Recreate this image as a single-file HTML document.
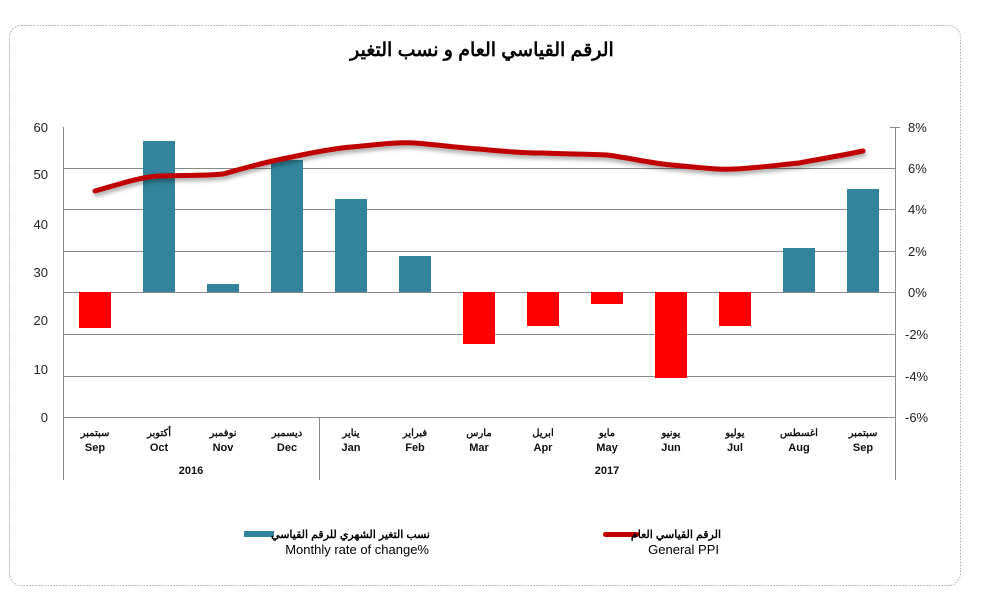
<!DOCTYPE html>
<html><head><meta charset="utf-8"><style>
body{margin:0;background:#fff;width:992px;height:598px;overflow:hidden}
svg text{font-family:"Liberation Sans","Noto Sans CJK SC",sans-serif}
</style></head><body>
<svg width="992" height="598" xmlns="http://www.w3.org/2000/svg">
<defs><filter id="sh" x="-5%" y="-50%" width="110%" height="200%"><feDropShadow dx="1" dy="3" stdDeviation="2" flood-color="#000" flood-opacity="0.35"/></filter></defs>
<rect x="9.5" y="25.5" width="951" height="560" rx="12" fill="#fff" stroke="#aaa" stroke-dasharray="1.5,1.5"/>
<text x="482" y="56" text-anchor="middle" font-size="19" font-weight="bold">الرقم القياسي العام و نسب التغير</text>
<g stroke="#888" stroke-width="1">
<line x1="63" y1="168.5" x2="895" y2="168.5"/>
<line x1="63" y1="209.5" x2="895" y2="209.5"/>
<line x1="63" y1="251.5" x2="895" y2="251.5"/>
<line x1="63" y1="292.5" x2="895" y2="292.5"/>
<line x1="63" y1="334.5" x2="895" y2="334.5"/>
<line x1="63" y1="376.5" x2="895" y2="376.5"/>
<line x1="63" y1="417.5" x2="895" y2="417.5"/>
<line x1="63.5" y1="127" x2="63.5" y2="480"/>
<line x1="895.5" y1="127" x2="895.5" y2="480"/>
<line x1="319.5" y1="417" x2="319.5" y2="480"/>
<line x1="890" y1="127.5" x2="900" y2="127.5"/>
</g>
<g font-size="13" fill="#222" text-anchor="end">
<text x="48" y="132">60</text><text x="48" y="179">50</text><text x="48" y="229">40</text><text x="48" y="277">30</text><text x="48" y="325">20</text><text x="48" y="374">10</text><text x="48" y="422">0</text>
</g>
<g font-size="13" fill="#222">
<text x="908" y="132">8%</text><text x="908" y="173">6%</text><text x="908" y="214">4%</text><text x="908" y="256">2%</text><text x="908" y="297">0%</text><text x="905" y="339">-2%</text><text x="905" y="381">-4%</text><text x="905" y="422">-6%</text>
</g>
<g fill="#31849b">
<rect x="143" y="141" width="32" height="151"/>
<rect x="207" y="284" width="32" height="8"/>
<rect x="271" y="160" width="32" height="132"/>
<rect x="335" y="199" width="32" height="93"/>
<rect x="399" y="256" width="32" height="36"/>
<rect x="783" y="248" width="32" height="44"/>
<rect x="847" y="189" width="32" height="103"/>
</g>
<g fill="#ff0000">
<rect x="79" y="292" width="32" height="36"/>
<rect x="463" y="292" width="32" height="52"/>
<rect x="527" y="292" width="32" height="34"/>
<rect x="591" y="292" width="32" height="12"/>
<rect x="655" y="292" width="32" height="86"/>
<rect x="719" y="292" width="32" height="34"/>
</g>
<path filter="url(#sh)" d="M95,191 C120,184 140,177 159,176 C180,175 205,176 223,174 C245,168 265,162 287,158 C310,153 330,149 351,147 C375,145 395,142 415,143 C440,145 460,148 479,149 C500,151 520,153 543,153 C565,154 585,154 607,155 C630,158 650,163 671,165 C695,167 715,170 735,169 C755,168 770,166 799,163 C820,159 845,155 863,151" fill="none" stroke="#c00000" stroke-width="5" stroke-linecap="round"/>
<g font-size="10" font-weight="bold" text-anchor="middle" fill="#111">
<text x="95" y="436">سبتمبر</text><text x="159" y="436">أكتوبر</text><text x="223" y="436">نوفمبر</text><text x="287" y="436">ديسمبر</text><text x="351" y="436">يناير</text><text x="415" y="436">فبراير</text><text x="479" y="436">مارس</text><text x="543" y="436">ابريل</text><text x="607" y="436">مايو</text><text x="671" y="436">يونيو</text><text x="735" y="436">يوليو</text><text x="799" y="436">اغسطس</text><text x="863" y="436">سبتمبر</text>
</g>
<g font-size="11" font-weight="bold" text-anchor="middle" fill="#111">
<text x="95" y="451">Sep</text><text x="159" y="451">Oct</text><text x="223" y="451">Nov</text><text x="287" y="451">Dec</text><text x="351" y="451">Jan</text><text x="415" y="451">Feb</text><text x="479" y="451">Mar</text><text x="543" y="451">Apr</text><text x="607" y="451">May</text><text x="671" y="451">Jun</text><text x="735" y="451">Jul</text><text x="799" y="451">Aug</text><text x="863" y="451">Sep</text>
<text x="191" y="474">2016</text><text x="607" y="474">2017</text>
</g>
<rect x="244" y="531" width="30" height="6" fill="#31849b"/>
<text x="430" y="538" font-size="11" font-weight="bold" text-anchor="end">نسب التغير الشهري للرقم القياسي</text>
<text x="429" y="554" font-size="13" text-anchor="end" fill="#000">Monthly rate of change%</text>
<rect x="603" y="532" width="36" height="5" rx="2.5" fill="#c00000"/>
<text x="721" y="538" font-size="11" font-weight="bold" text-anchor="end">الرقم القياسي العام</text>
<text x="719" y="554" font-size="13" text-anchor="end" fill="#000">General  PPI</text>
</svg>
</body></html>
